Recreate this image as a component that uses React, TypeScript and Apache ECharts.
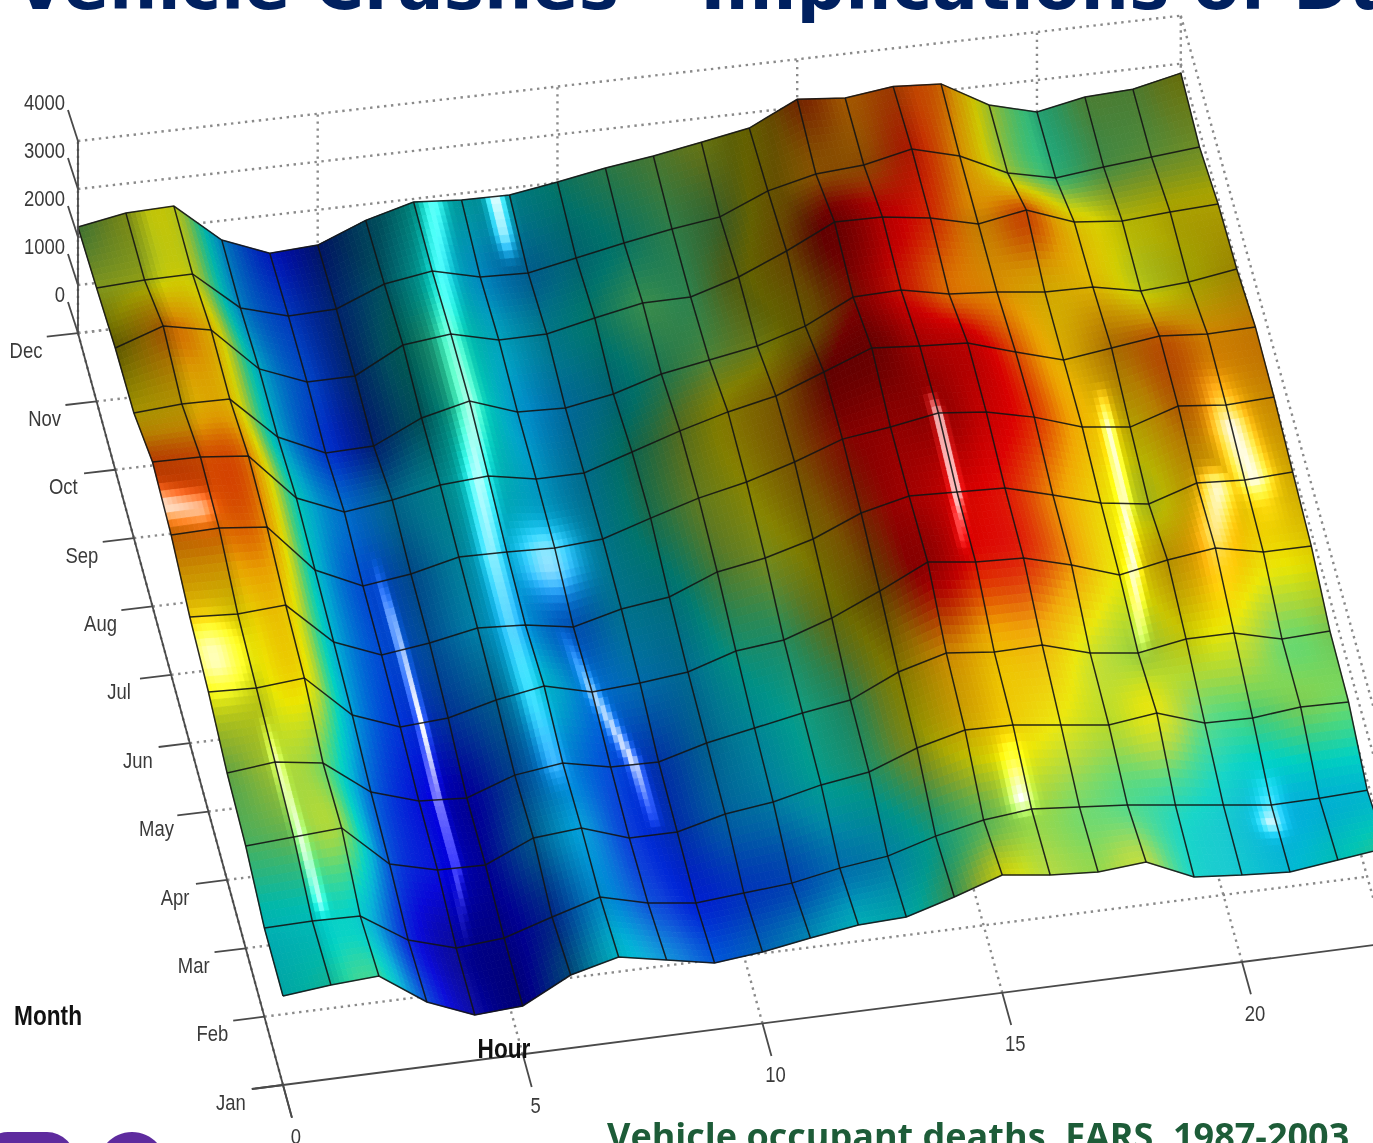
import React, { useEffect, useRef } from "react";
import * as echarts from "echarts";

const MONTHS = ["Jan", "Feb", "Mar", "Apr", "May", "Jun", "Jul", "Aug", "Sep", "Oct", "Nov", "Dec"];
const HOUR_TICKS = [0, 5, 10, 15, 20];
const Z_TICKS = [0, 1000, 2000, 3000, 4000];

const jan = [1854,1956,2014,1346,946,1006,1523,1771,1579,1389,1489,1654,1796,1835,2123,2454,2325,2260,2339,1900,1812,1748,1869,1991];
const feb = [1846,1864,1841,1214,921,1004,1314,1604,1352,1225,1306,1387,1573,1696,1985,2193,2296,2210,2125,1998,1871,1744,1762,1802];
const mar = [2131,2193,2256,1379,1129,1108,1546,1629,1294,1294,1544,1668,1898,2041,2416,2666,2645,2520,2393,2518,2185,2164,2268,2245];
const apr = [2227,2331,2187,1458,1148,1085,1439,1566,1358,1339,1610,1798,1987,2133,2593,2864,2760,2783,2491,2368,2535,2535,2287,2329];
const may = [2491,2452,2537,1643,1271,1335,1587,1756,1508,1573,1679,1993,2100,2435,2875,3356,3233,3193,2925,2593,2783,2910,2704,2706];
const jun = [2629,2570,2635,1743,1352,1481,1671,1612,1450,1702,1831,2231,2400,2675,3095,3329,3289,3252,2985,2695,2554,2870,2810,2856];
const jul = [2912,2937,2839,1823,1369,1500,1733,1716,1679,1748,2064,2360,2575,2871,3229,3360,3531,3431,3206,2879,2758,3075,2977,3022];
const aug = [3010,2995,2898,1904,1494,1625,1819,1887,1706,1712,2031,2350,2627,2841,3222,3604,3527,3470,3164,2879,3010,3141,3064,3091];
const sep = [2606,2677,2662,1754,1302,1331,1798,2033,1687,1652,1827,2127,2300,2475,2772,3260,3289,3087,3012,2893,2881,2681,2750,2904];
const oct = [2537,2879,2679,1752,1364,1373,1902,2014,1775,1783,2000,2195,2204,2506,2931,3418,3406,3268,3029,3204,2837,2741,2812,2864];
const nov = [2362,2414,2425,1602,1321,1352,1756,1912,1673,1641,1839,2037,2214,2350,2777,3016,3087,3306,3045,2577,2358,2473,2566,2660];
const dec = [2208,2385,2417,1596,1208,1265,1667,1935,1862,1854,2010,2188,2325,2500,2680,3167,3080,3208,3146,2594,2333,2531,2583,2804];
const DEATHS = [jan, feb, mar, apr, may, jun, jul, aug, sep, oct, nov, dec];

const COLOR_STOPS: [number, number, number, number][] = [
  [800, 0, 0, 110], [1100, 0, 0, 215], [1400, 0, 90, 215], [1700, 0, 175, 215], [1900, 0, 210, 195],
  [2100, 70, 215, 130], [2300, 165, 215, 60], [2500, 235, 230, 0], [2800, 240, 165, 0], [3000, 225, 80, 0],
  [3200, 220, 0, 0], [3500, 160, 0, 0], [3750, 90, 0, 0],
];

const HIGHLIGHTS: { w: number; pts: number[][] }[] = [
  { w: 6, pts: [[1.0, 3.7, 0], [1.05, 3.0, 0.75], [1.15, 2, 0.85], [1.25, 1.2, 0.8], [1.28, 0.95, 0]] },
  { w: 5, pts: [[4.35, 6.4, 0], [4.4, 5.5, 0.8], [4.45, 4, 1], [4.4, 3, 0.85], [4.4, 2, 0.6], [4.25, 1.2, 0.25], [4.2, 0.8, 0]] },
  { w: 13, pts: [[7.4, 11, 0.6], [7.2, 10, 0.55], [7, 9, 0.6], [7, 8, 0.75], [6.8, 7, 0.85], [6.7, 6, 0.75], [6.7, 5, 0.6], [6.7, 4, 0.5], [6.85, 3, 0.5], [6.9, 2.5, 0]] },
  { w: 9, pts: [[8.7, 11, 1], [8.7, 10.5, 0.8], [8.7, 10.1, 0]] },
  { w: 30, pts: [[7.8, 5.9, 0.75], [7.8, 5.8, 0.75]] },
  { w: 7, pts: [[7.7, 5.1, 0], [8, 4, 0.8], [8.5, 3, 0.95], [8.6, 2.2, 0.35], [8.65, 2, 0]] },
  { w: 6, pts: [[15.95, 6.25, 0.4], [16, 6, 0.95], [16, 5, 1], [15.85, 4.3, 0.4], [15.8, 4.1, 0]] },
  { w: 7, pts: [[19.6, 6.6, 0], [19.55, 6, 0.9], [19.5, 5, 0.9], [19.3, 4, 0.95], [19.15, 3.2, 0.55], [19.1, 2.9, 0]] },
  { w: 18, pts: [[21.9, 6.2, 0.3], [22, 5.7, 0.95], [22.2, 5, 0.95], [22.3, 4.6, 0.2]] },
  { w: 16, pts: [[21.4, 4.9, 0.9], [21.1, 4.2, 0.7], [20.95, 3.6, 0.2]] },
  { w: 12, pts: [[15.85, 1.7, 0.4], [15.85, 1.15, 1], [15.9, 0.85, 0]] },
  { w: 14, pts: [[20.9, 0.75, 0.9], [21, 1.15, 0.4]] },
  { w: 16, pts: [[0, 6.4, 0.9], [0.7, 6.3, 0.75]] },
  { w: 30, pts: [[0.3, 4.5, 0.85], [0.3, 4.4, 0.85]] },
];

const project = (h: number, m: number, v: number): number[] => [
  283 + 47.95 * h - 18.64 * m,
  1085 - 68.36 * m - (6.15 - 0.0636 * m) * h - 0.048 * v,
];

const NH = 24;
const NM = 12;
const clampI = (i: number, n: number) => Math.max(0, Math.min(n - 1, i));
const colorVal = (m: number, h: number) => DEATHS[m][h] - 35 * m * (h / 23) * (h / 23);
const slope = (m: number, h: number) => {
  const a = DEATHS[m][clampI(h - 1, NH)];
  const b = DEATHS[m][clampI(h + 1, NH)];
  return (b - a) / (h === 0 || h === NH - 1 ? 1 : 2);
};
const cr = (p0: number, p1: number, p2: number, p3: number, t: number) =>
  0.5 * (2 * p1 + (p2 - p0) * t + (2 * p0 - 5 * p1 + 4 * p2 - p3) * t * t + (3 * p1 - p0 - 3 * p2 + p3) * t * t * t);

function bicubicColor(h: number, m: number) {
  const hi = Math.min(NH - 2, Math.floor(h));
  const mi = Math.min(NM - 2, Math.floor(m));
  const th = h - hi;
  const tm = m - mi;
  const rows: number[] = [];
  for (let r = -1; r <= 2; r++) {
    const mm = clampI(mi + r, NM);
    rows.push(cr(colorVal(mm, clampI(hi - 1, NH)), colorVal(mm, hi), colorVal(mm, hi + 1), colorVal(mm, clampI(hi + 2, NH)), th));
  }
  return cr(rows[0], rows[1], rows[2], rows[3], tm);
}

function jet(v: number): number[] {
  if (v <= COLOR_STOPS[0][0]) return COLOR_STOPS[0].slice(1);
  for (let i = 1; i < COLOR_STOPS.length; i++) {
    if (v <= COLOR_STOPS[i][0]) {
      const a = COLOR_STOPS[i - 1];
      const b = COLOR_STOPS[i];
      const t = (v - a[0]) / (b[0] - a[0]);
      return [a[1] + (b[1] - a[1]) * t, a[2] + (b[2] - a[2]) * t, a[3] + (b[3] - a[3]) * t];
    }
  }
  return COLOR_STOPS[COLOR_STOPS.length - 1].slice(1);
}

function highlightAt(h: number, m: number) {
  let best = 0;
  const px = h * 48;
  const py = m * 68;
  for (const hl of HIGHLIGHTS) {
    for (let i = 0; i + 1 < hl.pts.length; i++) {
      const ax = hl.pts[i][0] * 48, ay = hl.pts[i][1] * 68;
      const bx = hl.pts[i + 1][0] * 48, by = hl.pts[i + 1][1] * 68;
      const dx = bx - ax, dy = by - ay;
      const t = Math.max(0, Math.min(1, ((px - ax) * dx + (py - ay) * dy) / (dx * dx + dy * dy)));
      const qx = ax + dx * t, qy = ay + dy * t;
      const d2 = (px - qx) ** 2 + (py - qy) ** 2;
      const s = hl.pts[i][2] + (hl.pts[i + 1][2] - hl.pts[i][2]) * t;
      const val = s * Math.exp(-d2 / (hl.w * hl.w));
      if (val > best) best = val;
    }
  }
  return best;
}

function shadeAt(h: number, m: number, hi: number, mi: number) {
  const th = h - hi;
  const tm = m - mi;
  const s0 = slope(mi, hi) * (1 - th) + slope(mi, hi + 1) * th;
  const s1 = slope(mi + 1, hi) * (1 - th) + slope(mi + 1, hi + 1) * th;
  const g = s0 * (1 - tm) + s1 * tm;
  const base = 0.72 + 0.34 * (1 - m / 11) * (0.6 + (0.4 * h) / 23);
  return Math.max(0.42, Math.min(base + 0.14, base - g * 0.0011));
}

function cellColor(h: number, m: number, hi: number, mi: number) {
  const c = jet(bicubicColor(h, m));
  const s = shadeAt(h, m, hi, mi);
  const I = highlightAt(h, m);
  const glow = Math.min(1, I * 1.8);
  const out = c.map((ch) => {
    let x = ch * Math.min(1, s);
    if (s > 1) x += (255 - x) * (s - 1) * 0.6;
    x += (ch * 1.25 - x) * glow;
    x += (255 - x) * I * I;
    return Math.round(Math.max(0, Math.min(255, x)));
  });
  return `rgb(${out[0]},${out[1]},${out[2]})`;
}

const bil = (h: number, m: number, hi: number, mi: number) => {
  const th = h - hi, tm = m - mi;
  const a = DEATHS[mi][hi] * (1 - th) + DEATHS[mi][hi + 1] * th;
  const b = DEATHS[mi + 1][hi] * (1 - th) + DEATHS[mi + 1][hi + 1] * th;
  return a * (1 - tm) + b * tm;
};

const SUB_H = 10;
const SUB_M = 10;
const FONT_LABEL = "'Liberation Sans',Arial,sans-serif";

function buildOption() {
  const cells: number[][] = [];
  for (let m = NM - 2; m >= 0; m--) for (let h = 0; h < NH - 1; h++) cells.push([h, m]);

  const dotted: number[][][] = [];
  Z_TICKS.forEach((z) => {
    dotted.push([project(0, 11, z), project(23, 11, z)]);
    dotted.push([project(23, 11, z), project(23, 0, z)]);
  });
  HOUR_TICKS.forEach((h) => {
    dotted.push([project(h, 0, 0), project(h, 11, 0)]);
    dotted.push([project(h, 11, 0), project(h, 11, 4000)]);
  });
  dotted.push([project(23, 11, 0), project(23, 11, 4000)]);
  MONTHS.forEach((_, m) => {
    if (m > 0) dotted.push([project(0, m, 0), project(23, m, 0)]);
  });

  const mesh: { pts: number[][] }[] = [];
  for (let m = 0; m < NM; m++) mesh.push({ pts: DEATHS[m].map((v, h) => project(h, m, v)) });
  for (let h = 0; h < NH; h++) mesh.push({ pts: DEATHS.map((row, m) => project(h, m, row[h])) });

  const solid: number[][][] = [];
  solid.push([project(0, 11, 0), project(0, -0.48, 0)]);
  solid.push([project(-0.65, 0, 0), project(23.5, 0, 0)]);
  solid.push([project(0, 11, 0), project(0, 11, 4000)]);
  MONTHS.forEach((_, m) => solid.push([project(-0.65, m, 0), project(0, m, 0)]));
  HOUR_TICKS.forEach((h) => solid.push([project(h, 0, 0), project(h, -0.48, 0)]));
  Z_TICKS.forEach((z) => {
    const p = project(0, 11, z);
    solid.push([[p[0] - 10, p[1] - 31], p]);
  });

  const labels: { t: string; x: number; y: number; size: number; bold?: boolean; color: string; right?: boolean }[] = [];
  Z_TICKS.forEach((z) => {
    const p = project(0, 11, z);
    labels.push({ t: String(z), x: 65, y: p[1] - 39, size: 22, color: "#3a3a3a", right: true });
  });
  MONTHS.forEach((name, m) => {
    const p = project(0, m, 0);
    labels.push({ t: name, x: p[0] - 52, y: p[1] + 17, size: 22, color: "#3a3a3a" });
  });
  HOUR_TICKS.forEach((h) => {
    const p = project(h, 0, 0);
    labels.push({ t: String(h), x: p[0] + 13, y: p[1] + 51, size: 22, color: "#3a3a3a" });
  });
  labels.push({ t: "Month", x: 48, y: 1015, size: 27, bold: true, color: "#111" });
  labels.push({ t: "Hour", x: 504, y: 1048, size: 27, bold: true, color: "#111" });

  return {
    animation: false,
    backgroundColor: "#ffffff",
    grid: { left: 0, right: 0, top: 0, bottom: 0 },
    xAxis: { type: "value", min: 0, max: 1373, show: false },
    yAxis: { type: "value", min: 0, max: 1143, inverse: true, show: false },
    graphic: [
      { type: "text", x: 14, y: 19, z: 10, style: { text: "Vehicle Crashes – Implications of Du", fill: "#00205f", font: "bold 68px 'DejaVu Sans',sans-serif", textVerticalAlign: "bottom" } },
      { type: "text", x: 607, y: 1135, z: 10, style: { text: "Vehicle occupant deaths, FARS, 1987-2003", fill: "#1d5c38", font: "bold 36px 'Open Sans',sans-serif", textVerticalAlign: "middle" } },
      { type: "rect", z: 10, shape: { x: -20, y: 1132, width: 95, height: 60, r: 28 }, style: { fill: "#5e2b9e" } },
      { type: "ellipse", z: 10, shape: { cx: 132, cy: 1166, rx: 34, ry: 34 }, style: { fill: "#5e2b9e" } },
    ],
    series: [
      {
        type: "custom", coordinateSystem: "cartesian2d", silent: true, clip: false, z: 1,
        data: dotted.map((_, i) => [i, 0]),
        renderItem: (params: any, api: any) => {
          const s = dotted[params.dataIndex];
          const a = api.coord(s[0]), b = api.coord(s[1]);
          return { type: "line", shape: { x1: a[0], y1: a[1], x2: b[0], y2: b[1] }, style: { stroke: "#8a8a8a", lineWidth: 2.4, lineDash: [2.4, 4.6], fill: null } };
        },
      },
      {
        type: "custom", coordinateSystem: "cartesian2d", silent: true, clip: false, z: 2,
        data: cells,
        renderItem: (params: any, api: any) => {
          const [hi, mi] = cells[params.dataIndex];
          const children: any[] = [];
          for (let j = SUB_M - 1; j >= 0; j--) {
            for (let i = 0; i < SUB_H; i++) {
              const h0 = hi + i / SUB_H, h1 = hi + (i + 1) / SUB_H;
              const m0 = mi + j / SUB_M, m1 = mi + (j + 1) / SUB_M;
              const pts = [[h0, m0], [h1, m0], [h1, m1], [h0, m1]].map(([h, m]) => api.coord(project(h, m, bil(h, m, hi, mi))));
              const fill = cellColor((h0 + h1) / 2, (m0 + m1) / 2, hi, mi);
              children.push({ type: "polygon", shape: { points: pts }, style: { fill, stroke: fill, lineWidth: 0.8 } });
            }
          }
          return { type: "group", children };
        },
      },
      {
        type: "custom", coordinateSystem: "cartesian2d", silent: true, clip: false, z: 3,
        data: mesh.map((_, i) => [i, 0]),
        renderItem: (params: any, api: any) => ({
          type: "polyline",
          shape: { points: mesh[params.dataIndex].pts.map((p) => api.coord(p)) },
          style: { stroke: "#141414", lineWidth: 1.5, fill: null, opacity: 0.9 },
        }),
      },
      {
        type: "custom", coordinateSystem: "cartesian2d", silent: true, clip: false, z: 4,
        data: solid.map((_, i) => [i, 0]),
        renderItem: (params: any, api: any) => {
          const s = solid[params.dataIndex];
          const a = api.coord(s[0]), b = api.coord(s[1]);
          return { type: "line", shape: { x1: a[0], y1: a[1], x2: b[0], y2: b[1] }, style: { stroke: "#4a4a4a", lineWidth: 1.8, fill: null } };
        },
      },
      {
        type: "custom", coordinateSystem: "cartesian2d", silent: true, clip: false, z: 5,
        data: labels.map((_, i) => [i, 0]),
        renderItem: (params: any, api: any) => {
          const l = labels[params.dataIndex];
          const p = api.coord([l.x, l.y]);
          return {
            type: "text", x: p[0], y: p[1], scaleX: 0.84,
            style: {
              text: l.t, fill: l.color, fontFamily: FONT_LABEL, fontSize: l.size,
              fontWeight: l.bold ? "bold" : "normal", textAlign: l.right ? "right" : "center", textVerticalAlign: "middle",
            },
          };
        },
      },
    ],
  };
}

export default function App() {
  const ref = useRef<HTMLDivElement>(null);
  useEffect(() => {
    document.body.style.margin = "0";
    document.body.style.overflow = "hidden";
    const chart = echarts.init(ref.current!, undefined, { renderer: "svg" });
    chart.setOption(buildOption() as any);
    return () => chart.dispose();
  }, []);
  return <div ref={ref} style={{ width: 1373, height: 1143, filter: "blur(0.7px)" }} />;
}
